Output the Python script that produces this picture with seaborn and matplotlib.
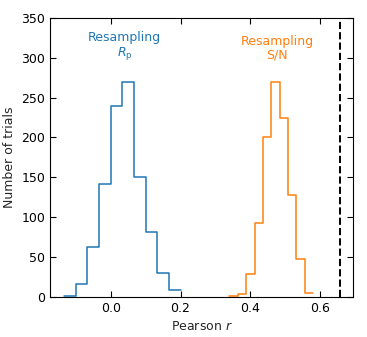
import numpy as np
import pandas as pd
import matplotlib
matplotlib.use("Agg")
import matplotlib.pyplot as plt
import seaborn as sns

# Data
rp_edges = [-0.1333 + i * 0.03333 for i in range(11)]
rp_counts = [1, 16, 63, 141, 239, 269, 151, 81, 30, 9]
sn_edges = [0.340 + i * 0.024 for i in range(11)]
sn_counts = [1, 4, 29, 93, 200, 270, 224, 128, 47, 5]
observed_r = 0.656

sns.set_style("ticks")
plt.rcParams['font.family'] = ['DejaVu Sans']

fig = plt.figure(figsize=(3.67, 3.37), dpi=100)
ax = fig.add_axes([0.136, 0.119, 0.826, 0.828])

def centers(e):
    e = np.asarray(e)
    return (e[:-1] + e[1:]) / 2

df_rp = pd.DataFrame({"r": centers(rp_edges), "w": rp_counts})
df_sn = pd.DataFrame({"r": centers(sn_edges), "w": sn_counts})

sns.histplot(data=df_rp, x="r", weights="w", bins=rp_edges, element="step",
             fill=False, color="#1f77b4", linewidth=1.1, ax=ax)
sns.histplot(data=df_sn, x="r", weights="w", bins=sn_edges, element="step",
             fill=False, color="#ff7f0e", linewidth=1.1, ax=ax)
ax.axvline(observed_r, color="black", linestyle="--", linewidth=1.4)

ax.text(0.04, 314, "Resampling\n$R_{\\rm p}$", color="#1f77b4", ha="center",
        va="center", fontsize=9, linespacing=1.1)
ax.text(0.477, 312, "Resampling\nS/N", color="#ff7f0e", ha="center",
        va="center", fontsize=9, linespacing=1.1)

ax.set_xlim(-0.174, 0.694)
ax.set_ylim(0, 350)
ax.set_xticks([0.0, 0.2, 0.4, 0.6])
ax.set_yticks(range(0, 351, 50))
ax.set_xlabel("Pearson $r$", fontsize=9)
ax.set_ylabel("Number of trials", fontsize=9)
ax.tick_params(direction="in", top=True, right=True, labelsize=9, length=4,
               width=0.8, colors="black")
for s in ax.spines.values():
    s.set_linewidth(0.8)
    s.set_color("black")

fig.savefig("out.png", dpi=100)
